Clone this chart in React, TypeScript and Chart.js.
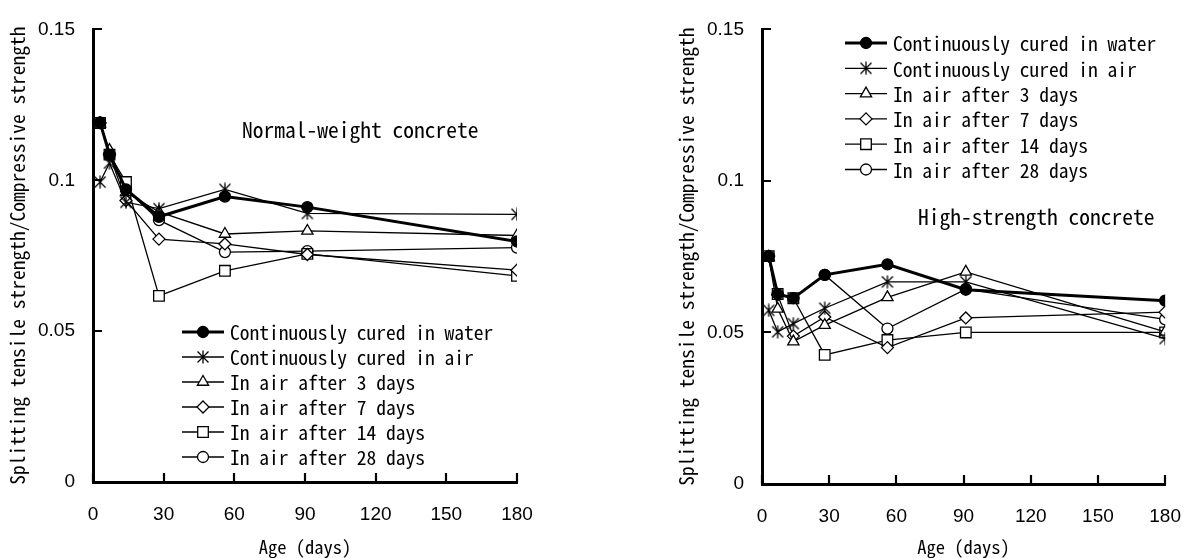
import React, { useEffect, useRef } from 'react';
import { Chart, registerables } from 'chart.js';
import { drawPoint } from 'chart.js/helpers';

Chart.register(...registerables);

const FONT = "'Noto Sans Mono CJK JP', 'DejaVu Sans Mono', monospace";
const TICK_FONT = "'Liberation Sans', Arial, sans-serif";

// ---------- data ----------
const ages = [3, 7, 14, 28, 56, 91, 180];
const seriesLabels = [
  'Continuously cured in water',
  'Continuously cured in air',
  'In air after 3 days',
  'In air after 7 days',
  'In air after 14 days',
  'In air after 28 days',
];
const xTickLabels = ['0', '30', '60', '90', '120', '150', '180'];
const yTickLabels = ['0', '0.05', '0.1', '0.15'];
const xTitle = 'Age (days)';
const yTitle = 'Splitting tensile strength/Compressive strength';
const nwTitle = 'Normal-weight concrete';
const hsTitle = 'High-strength concrete';

// Normal-weight concrete
const nwWater = [0.1192, 0.1085, 0.097, 0.0879, 0.0946, 0.0911, 0.0797];
const nwAir = [0.0994, 0.1057, 0.0927, 0.0906, 0.097, 0.089, 0.0887];
const nwAfter3 = [0.1187, 0.110, 0.096, 0.0895, 0.0822, 0.0832, 0.0817];
const nwAfter7 = [0.119, 0.1084, 0.0933, 0.0805, 0.0789, 0.0754, 0.0702];
const nwAfter14 = [0.119, 0.1085, 0.0994, 0.0617, 0.070, 0.0756, 0.0683];
const nwAfter28 = [0.119, 0.1085, 0.097, 0.0868, 0.0762, 0.0765, 0.0777];

// High-strength concrete
const hsWater = [0.0752, 0.0627, 0.0613, 0.069, 0.0725, 0.0641, 0.0605];
const hsAir = [0.0573, 0.0502, 0.0529, 0.058, 0.0667, 0.0667, 0.048];
const hsAfter3 = [0.0748, 0.0578, 0.047, 0.0524, 0.0616, 0.070, 0.0502];
const hsAfter7 = [0.0752, 0.0624, 0.0488, 0.0551, 0.045, 0.0548, 0.0567];
const hsAfter14 = [0.0752, 0.0627, 0.0613, 0.0426, 0.0475, 0.050, 0.050];
const hsAfter28 = [0.0752, 0.0627, 0.0613, 0.069, 0.0513, 0.0643, 0.0543];

// ---------- styles ----------
function makeAsterisk(): HTMLCanvasElement {
  const c = document.createElement('canvas');
  const s = 14;
  c.width = s;
  c.height = s;
  const g = c.getContext('2d')!;
  g.strokeStyle = '#000';
  g.lineWidth = 1.3;
  g.beginPath();
  g.moveTo(s / 2, 0.5);
  g.lineTo(s / 2, s - 0.5);
  g.moveTo(1.5, 1.5);
  g.lineTo(s - 1.5, s - 1.5);
  g.moveTo(s - 1.5, 1.5);
  g.lineTo(1.5, s - 1.5);
  g.stroke();
  return c;
}

type Style = { pointStyle: any; radius: number; fill: string; width: number };

function getStyles(): Style[] {
  const star = makeAsterisk();
  return [
    { pointStyle: 'circle', radius: 5.5, fill: '#000', width: 3 },
    { pointStyle: star, radius: 7, fill: '#fff', width: 1.3 },
    { pointStyle: 'triangle', radius: 6.5, fill: '#fff', width: 1.3 },
    { pointStyle: 'rectRot', radius: 6, fill: '#fff', width: 1.3 },
    { pointStyle: 'rect', radius: 7.5, fill: '#fff', width: 1.3 },
    { pointStyle: 'circle', radius: 5.5, fill: '#fff', width: 1.3 },
  ];
}

// ---------- plugins ----------
const inwardTicks = {
  id: 'inwardTicks',
  afterDraw(chart: any) {
    const ctx = chart.ctx;
    const { left, bottom } = chart.chartArea;
    const L = 9;
    ctx.save();
    ctx.strokeStyle = '#000';
    ctx.lineWidth = 2.2;
    ctx.beginPath();
    const xs = chart.scales.x;
    xs.ticks.forEach((t: any) => {
      const p = Math.round(xs.getPixelForValue(t.value));
      ctx.moveTo(p, bottom);
      ctx.lineTo(p, bottom - L);
    });
    const ys = chart.scales.y;
    ys.ticks.forEach((t: any) => {
      const p = Math.round(ys.getPixelForValue(t.value));
      ctx.moveTo(left, p);
      ctx.lineTo(left + L, p);
    });
    ctx.stroke();
    ctx.restore();
  },
};

const customLegend = {
  id: 'customLegend',
  afterDraw(chart: any, _args: any, opts: any) {
    const ctx = chart.ctx;
    ctx.save();
    chart.data.datasets.forEach((ds: any, i: number) => {
      const y = opts.y + i * opts.step;
      const x0 = opts.x;
      ctx.strokeStyle = '#000';
      ctx.lineWidth = ds.borderWidth;
      ctx.beginPath();
      ctx.moveTo(x0, y);
      ctx.lineTo(x0 + 42, y);
      ctx.stroke();
      ctx.fillStyle = ds.pointBackgroundColor;
      ctx.strokeStyle = '#000';
      ctx.lineWidth = 1.3;
      drawPoint(ctx, { pointStyle: ds.pointStyle, radius: ds.pointRadius, rotation: 0, borderWidth: 1.3 }, x0 + 21, y);
      ctx.fillStyle = '#000';
      ctx.font = `${opts.fontSize}px ${FONT}`;
      ctx.textBaseline = 'middle';
      ctx.textAlign = 'left';
      ctx.fillText(ds.label, x0 + 48, y + 1);
    });
    ctx.fillStyle = '#000';
    ctx.font = `${opts.titleSize}px ${FONT}`;
    ctx.textBaseline = 'middle';
    ctx.textAlign = 'left';
    ctx.fillText(opts.title, opts.tx, opts.ty);
    ctx.restore();
  },
};

function buildConfig(series: number[][], pad: any, xHeight: number, legend: any) {
  const styles = getStyles();
  return {
    type: 'line',
    data: {
      datasets: series.map((arr, i) => ({
        label: seriesLabels[i],
        data: ages.map((a, j) => ({ x: a, y: arr[j] })),
        borderColor: '#000',
        borderWidth: styles[i].width,
        pointStyle: styles[i].pointStyle,
        pointRadius: styles[i].radius,
        pointBackgroundColor: styles[i].fill,
        pointBorderColor: '#000',
        pointBorderWidth: 1.3,
        tension: 0,
        fill: false,
      })),
    },
    options: {
      animation: false,
      responsive: false,
      maintainAspectRatio: false,
      layout: { padding: pad },
      plugins: {
        legend: { display: false },
        tooltip: { enabled: false },
        customLegend: legend,
      },
      scales: {
        x: {
          type: 'linear',
          min: 0,
          max: 180,
          afterFit: (s: any) => { s.height = xHeight; },
          grid: { display: false, drawTicks: false },
          border: { display: true, color: '#000', width: 3 },
          ticks: {
            stepSize: 30,
            padding: 21,
            color: '#000',
            font: { family: TICK_FONT, size: 19 },
            callback: (_v: any, i: number) => xTickLabels[i],
          },
          title: {
            display: true,
            text: xTitle,
            color: '#000',
            font: { family: FONT, size: 18.5 },
            padding: 0,
          },
        },
        y: {
          type: 'linear',
          min: 0,
          max: 0.15,
          afterFit: (s: any) => { s.width = 93; },
          grid: { display: false, drawTicks: false },
          border: { display: true, color: '#000', width: 3 },
          ticks: {
            stepSize: 0.05,
            padding: 18,
            color: '#000',
            font: { family: TICK_FONT, size: 19 },
            callback: (_v: any, i: number) => yTickLabels[i],
          },
          title: {
            display: true,
            text: yTitle,
            color: '#000',
            font: { family: FONT, size: 19.5 },
            padding: { top: 6, bottom: 0 },
          },
        },
      },
    },
    plugins: [inwardTicks, customLegend],
  };
}

function ChartCanvas(props: { left: number; width: number; config: () => any }) {
  const ref = useRef<HTMLCanvasElement | null>(null);
  useEffect(() => {
    const chart = new Chart(ref.current!, props.config());
    return () => chart.destroy();
  }, []);
  return (
    <canvas
      ref={ref}
      width={props.width}
      height={558}
      style={{ position: 'absolute', left: props.left, top: 0, width: props.width, height: 558 }}
    />
  );
}

export default function App() {
  return (
    <div style={{ position: 'fixed', left: 0, top: 0, width: 1202, height: 558, background: '#fff' }}>
      <ChartCanvas
        left={0}
        width={600}
        config={() =>
          buildConfig(
            [nwWater, nwAir, nwAfter3, nwAfter7, nwAfter14, nwAfter28],
            { left: 0, top: 21, right: 83, bottom: 0 },
            76,
            { x: 182, y: 332, step: 25, fontSize: 19.5, title: nwTitle, titleSize: 21.5, tx: 242, ty: 130 }
          )
        }
      />
      <ChartCanvas
        left={669}
        width={533}
        config={() =>
          buildConfig(
            [hsWater, hsAir, hsAfter3, hsAfter7, hsAfter14, hsAfter28],
            { left: 0, top: 24, right: 19, bottom: 0 },
            74,
            { x: 176, y: 43, step: 25.3, fontSize: 19.5, title: hsTitle, titleSize: 21.5, tx: 249, ty: 217 }
          )
        }
      />
    </div>
  );
}
